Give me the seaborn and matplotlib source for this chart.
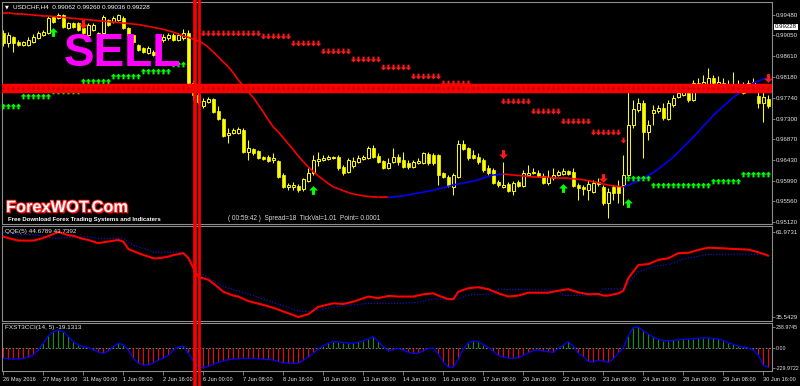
import matplotlib
matplotlib.use("Agg")
import numpy as np
import pandas as pd
import seaborn as sns
import matplotlib.pyplot as plt
from matplotlib.collections import LineCollection
from matplotlib.lines import Line2D
from matplotlib.path import Path
import matplotlib.patheffects as pe
import matplotlib.transforms as mtransforms

PIP = 0.0001

# ---------------- data (USDCHF H4, prices in pips) ----------------
opens = [9910, 9889, 9902, 9891, 9885, 9885, 9891, 9900, 9906, 9910,
         9944, 9942, 9948, 9921, 9932, 9932, 9921, 9906, 9917, 9910,
         9910, 9938, 9934, 9938, 9942, 9921, 9906, 9885, 9879, 9868,
         9870, 9868, 9896, 9900, 9906, 9896, 9900, 9910, 9805, 9780,
         9757, 9765, 9771, 9746, 9729, 9696, 9700, 9700, 9706, 9660,
         9666, 9662, 9649, 9649, 9643, 9641, 9611, 9586, 9586, 9588,
         9582, 9599, 9616, 9641, 9643, 9645, 9647, 9649, 9628, 9618,
         9630, 9639, 9645, 9647, 9668, 9651, 9641, 9626, 9639, 9649,
         9643, 9637, 9628, 9637, 9637, 9656, 9653, 9653, 9616, 9607,
         9586, 9607, 9677, 9668, 9653, 9649, 9643, 9626, 9622, 9597,
         9586, 9592, 9578, 9597, 9588, 9611, 9616, 9616, 9609, 9595,
         9605, 9611, 9613, 9620, 9618, 9590, 9586, 9580, 9576, 9597,
         9586, 9552, 9586, 9588, 9590, 9611, 9717, 9748, 9763, 9702,
         9742, 9746, 9753, 9729, 9759, 9776, 9780, 9784, 9769, 9805,
         9799, 9801, 9816, 9801, 9805, 9801, 9795, 9803, 9797, 9797,
         9799, 9778, 9763, 9771]
closes = [9889, 9906, 9889, 9885, 9891, 9896, 9902, 9910, 9913, 9942,
          9934, 9948, 9923, 9932, 9923, 9917, 9910, 9927, 9927, 9902,
          9944, 9927, 9942, 9948, 9921, 9906, 9891, 9875, 9870, 9879,
          9864, 9896, 9902, 9906, 9896, 9906, 9910, 9805, 9780, 9765,
          9767, 9771, 9744, 9729, 9693, 9700, 9706, 9708, 9660, 9668,
          9658, 9647, 9645, 9641, 9647, 9607, 9586, 9590, 9590, 9580,
          9603, 9616, 9643, 9645, 9647, 9649, 9649, 9626, 9616, 9643,
          9641, 9647, 9649, 9668, 9649, 9639, 9626, 9637, 9649, 9639,
          9628, 9628, 9639, 9641, 9658, 9637, 9637, 9611, 9607, 9588,
          9611, 9677, 9666, 9647, 9647, 9639, 9622, 9616, 9595, 9590,
          9590, 9578, 9595, 9588, 9616, 9616, 9618, 9609, 9595, 9607,
          9611, 9618, 9620, 9613, 9588, 9584, 9582, 9592, 9595, 9592,
          9552, 9576, 9574, 9574, 9611, 9717, 9750, 9763, 9702, 9717,
          9748, 9753, 9731, 9763, 9774, 9784, 9790, 9769, 9805, 9797,
          9807, 9816, 9805, 9807, 9797, 9795, 9803, 9790, 9784, 9805,
          9807, 9763, 9776, 9757]
highs = [9917, 9913, 9904, 9896, 9894, 9902, 9908, 9915, 9917, 9946,
         9946, 9953, 9950, 9934, 9934, 9934, 9927, 9932, 9932, 9913,
         9948, 9940, 9946, 9950, 9946, 9923, 9908, 9887, 9881, 9883,
         9875, 9902, 9908, 9910, 9910, 9910, 9919, 9917, 9811, 9786,
         9774, 9776, 9774, 9757, 9731, 9710, 9710, 9712, 9710, 9685,
         9668, 9664, 9651, 9653, 9658, 9643, 9616, 9595, 9597, 9592,
         9605, 9626, 9653, 9660, 9653, 9653, 9651, 9653, 9632, 9647,
         9649, 9653, 9653, 9672, 9675, 9658, 9643, 9647, 9668, 9656,
         9660, 9643, 9643, 9647, 9660, 9660, 9658, 9656, 9618, 9611,
         9616, 9685, 9685, 9670, 9664, 9658, 9647, 9632, 9626, 9601,
         9639, 9597, 9599, 9601, 9622, 9632, 9626, 9622, 9616, 9622,
         9626, 9622, 9626, 9622, 9626, 9595, 9590, 9601, 9601, 9605,
         9590, 9584, 9590, 9601, 9653, 9801, 9769, 9774, 9769, 9727,
         9759, 9759, 9763, 9769, 9780, 9790, 9801, 9790, 9811, 9816,
         9822, 9837, 9822, 9820, 9816, 9811, 9828, 9811, 9807, 9811,
         9816, 9786, 9786, 9780]
lows = [9883, 9881, 9870, 9883, 9883, 9883, 9889, 9898, 9904, 9908,
        9932, 9940, 9921, 9919, 9921, 9915, 9908, 9904, 9915, 9900,
        9906, 9925, 9932, 9936, 9919, 9904, 9887, 9873, 9868, 9866,
        9862, 9864, 9891, 9896, 9894, 9894, 9896, 9801, 9769, 9761,
        9753, 9763, 9742, 9727, 9691, 9679, 9698, 9698, 9658, 9643,
        9653, 9645, 9643, 9639, 9637, 9605, 9584, 9580, 9580, 9576,
        9578, 9597, 9611, 9630, 9641, 9643, 9645, 9622, 9611, 9616,
        9626, 9637, 9643, 9645, 9647, 9637, 9624, 9624, 9637, 9632,
        9626, 9624, 9626, 9635, 9635, 9632, 9632, 9590, 9605, 9586,
        9569, 9605, 9664, 9643, 9645, 9635, 9618, 9611, 9592, 9586,
        9584, 9576, 9569, 9586, 9586, 9609, 9613, 9607, 9592, 9590,
        9601, 9609, 9611, 9611, 9586, 9559, 9569, 9559, 9574, 9588,
        9548, 9521, 9559, 9552, 9548, 9605, 9710, 9744, 9647, 9685,
        9717, 9742, 9727, 9727, 9755, 9774, 9778, 9765, 9767, 9795,
        9797, 9799, 9801, 9799, 9795, 9792, 9792, 9788, 9782, 9795,
        9797, 9753, 9723, 9753]
# slope-coloured moving average (pips)
ma_line = [9953, 9953, 9951, 9950, 9950, 9949, 9948, 9947, 9946, 9946,
           9945, 9944, 9943, 9942, 9941, 9940, 9939, 9938, 9937, 9936,
           9935, 9934, 9933, 9932, 9931, 9930, 9929, 9928, 9926, 9924,
           9922, 9920, 9918, 9915, 9912, 9908, 9904, 9901, 9897, 9893,
           9888, 9880, 9870, 9860, 9849, 9839, 9826, 9811, 9799, 9786,
           9774, 9759, 9744, 9727, 9712, 9702, 9689, 9677, 9664, 9651,
           9639, 9628, 9618, 9609, 9601, 9593, 9586, 9582, 9578, 9574,
           9571, 9569, 9567, 9566, 9565, 9565, 9564, 9564, 9565, 9566,
           9567, 9569, 9571, 9573, 9575, 9577, 9579, 9582, 9584, 9587,
           9590, 9592, 9594, 9596, 9598, 9601, 9605, 9608, 9611, 9612,
           9613, 9612, 9611, 9610, 9609, 9608, 9607, 9607, 9606, 9606,
           9605, 9605, 9604, 9604, 9603, 9602, 9601, 9599, 9597, 9595,
           9592, 9590, 9588, 9587, 9586, 9590, 9594, 9599, 9605, 9610,
           9616, 9624, 9632, 9640, 9649, 9659, 9670, 9680, 9691, 9702,
           9714, 9725, 9737, 9746, 9756, 9765, 9775, 9782, 9790, 9797,
           9805, 9809, 9813, 9815]
cci = [-119, -122, -126, -124, -120, -105, -80, -20, 55, 140,
       188, 207, 188, 135, 70, 35, 15, 5, -20, -45,
       -61, -35, 15, 54, 35, -23, -119, -175, -193, -195,
       -170, -140, -115, -85, -25, 10, 23, -60, -150, -215,
       -230, -210, -188, -165, -145, -135, -126, -122, -120, -119,
       -119, -122, -127, -132, -138, -155, -170, -176, -178, -176,
       -140, -105, -60, -10, 25, 55, 73, 70, 62, 56,
       54, 65, 81, 105, 130, 75, 15, -30, -20, -5,
       -25, -50, -61, -61, -30, -5, 0, -70, -160, -220,
       -220, -130, -10, 60, 81, 73, 40, 5, -40, -85,
       -105, -115, -119, -110, -85, -55, -28, -25, -33, -42,
       -50, -5, 35, 73, 20, -60, -100, -155, -160, -138,
       -150, -165, -125, -60, 0, 140, 235, 239, 200, 160,
       125, 100, 85, 81, 88, 95, 100, 103, 108, 113,
       118, 116, 110, 104, 85, 60, 42, 25, 10, 0,
       -25, -80, -200, -220]
qqe_bar = [0, 1, 3, 6, 8, 11, 13, 14, 16, 17, 19, 21, 23, 24, 25, 27, 30, 31, 33, 34,
           36, 37, 38, 39, 41, 42, 44, 46, 47, 49, 52, 54, 57, 59, 61, 63, 66, 68, 70, 73,
           75, 77, 79, 82, 84, 86, 87, 89, 90, 91, 93, 95, 97, 99, 101, 103, 105, 109, 111, 113,
           115, 117, 119, 120, 121, 123, 124, 125, 127, 129, 131, 133, 135, 137, 139, 141, 144, 146, 149, 151,
           153]
qqe_val = [60.5, 60.1, 59.3, 59.3, 60.1, 61.97, 61.0, 60.8, 59.8, 59.5, 58.5, 59.0, 59.5, 59.0, 56.7, 55.4, 53.8, 53.8, 54.3, 54.8,
           55.4, 53.9, 50.8, 48.1, 47.1, 46.0, 43.4, 42.2, 41.9, 40.5, 39.3, 38.4, 36.7, 35.54, 36.4, 38.7, 39.8, 39.6, 40.3, 41.9,
           41.4, 42.1, 41.9, 41.9, 42.6, 42.9, 42.2, 41.1, 41.1, 43.4, 44.5, 44.8, 44.2, 42.9, 41.9, 42.2, 43.1, 43.1, 43.7, 44.2,
           43.2, 42.6, 42.7, 42.2, 42.2, 42.9, 43.7, 47.6, 51.7, 52.0, 53.3, 53.8, 55.4, 55.5, 56.4, 57.1, 56.9, 56.7, 56.5, 55.7,
           54.6]
qqe_sig_bar = [0, 3, 7, 10, 13, 17, 19, 24, 26, 29, 30, 36, 37, 39, 44, 50, 55, 59, 61, 63,
               66, 73, 79, 83, 86, 91, 93, 98, 99, 111, 112, 119, 120, 124, 127, 130, 133, 136, 141, 149,
               153]
qqe_sig_val = [61.9, 61.3, 61.0, 60.0, 60.2, 60.5, 60.0, 60.0, 57.9, 56.4, 55.7, 55.7, 54.3, 49.6, 45.0, 42.2, 39.5, 37.4, 37.2, 37.7,
               38.7, 39.8, 39.8, 40.1, 41.1, 41.1, 42.4, 42.7, 44.2, 43.9, 42.2, 42.4, 44.3, 44.3, 49.6, 51.2, 51.9, 53.6, 55.0, 55.1,
               55.0]
# arrow rows: resistance (red, down) and support (green, up)
res_start = [40, 52, 58, 64, 70, 76, 82, 88, 100, 106, 112, 118, 124]
res_end = [51, 57, 63, 69, 75, 81, 87, 93, 105, 111, 117, 123, 124]
res_level = [0.9910, 0.9904, 0.9889, 0.9872, 0.9855, 0.9838, 0.9820, 0.9805, 0.9767, 0.9746, 0.9725, 0.9702, 0.9685]
sup_start = [0, 4, 10, 16, 22, 28, 34, 125, 130, 142, 148]
sup_end = [3, 9, 15, 21, 27, 33, 36, 129, 141, 147, 153]
sup_level = [0.9756, 0.9777, 0.9787, 0.9810, 0.9820, 0.9830, 0.9845, 0.9605, 0.9590, 0.9598, 0.9613]
sell_bar = [16, 100, 120, 153]
sell_price = [0.9929, 0.9655, 0.9605, 0.9815]
buy_bar = [10, 62, 112, 125]
buy_price = [0.9912, 0.9579, 0.9584, 0.9552]
sell_level = 0.9795
signal_bar = 38
last_price = 0.99228

price_ticks = [0.99480, 0.99050, 0.98610, 0.98180, 0.97740, 0.97300, 0.96870, 0.96430, 0.95990, 0.95560, 0.95120]
qqe_ticks = [35.5429, 61.9731]
cci_ticks = [-229.9722, 0.0, 238.9745]
cci_tick_labels = ["-229.9722", "0.00", "238.9745"]
x_labels = ["26 May 2016", "27 May 16:00", "31 May 00:00", "1 Jun 08:00", "2 Jun 16:00",
            "6 Jun 00:00", "7 Jun 08:00", "8 Jun 16:00", "10 Jun 00:00", "13 Jun 08:00",
            "14 Jun 16:00", "16 Jun 00:00", "17 Jun 08:00", "20 Jun 16:00", "22 Jun 00:00",
            "23 Jun 08:00", "24 Jun 16:00", "28 Jun 00:00", "29 Jun 08:00", "30 Jun 16:00"]
label_every = 8

title_text = "USDCHF,H4  0.99062 0.99260 0.99036 0.99228"
qqe_text = "QQE(5) 44.6789 43.7392"
cci_text = "FXST3CCI(14, 5) -19.1313"
status_text = "( 00:59:42 )  Spread=18  TickVal=1.01  Point= 0.0001"

# ---------------- style ----------------
sns.set_theme(style="dark", rc={"axes.facecolor": "black", "figure.facecolor": "black",
                                "axes.edgecolor": "#8c8c8c", "axes.linewidth": 0.8})
plt.rcParams["font.family"] = ["Liberation Sans", "DejaVu Sans"]

n = len(closes)
assert all(len(a) == n for a in (opens, highs, lows, ma_line, cci))
df = pd.DataFrame({"bar": np.arange(n),
                   "open": np.array(opens) * PIP, "high": np.array(highs) * PIP,
                   "low": np.array(lows) * PIP, "close": np.array(closes) * PIP,
                   "ma": np.array(ma_line) * PIP, "cci": np.array(cci, dtype=float)})

W, H = 800, 386
fig = plt.figure(figsize=(W / 100, H / 100), dpi=100)

def px_axes(x0, y0, x1, y1):
    return fig.add_axes([x0 / W, 1 - y1 / H, (x1 - x0) / W, (y1 - y0) / H])

ax = px_axes(2, 2, 772, 224)
axq = px_axes(2, 226, 772, 321)
axc = px_axes(2, 323, 772, 371)

XMIN = -0.26
XMAX = XMIN + 770 / 5.0
GRAY = "#8c8c8c"
TXT = "#e6e6e6"
LBL = 4.4
for a in (ax, axq, axc):
    a.set_facecolor("black")
    a.set_xlim(XMIN, XMAX)
    a.grid(False)
    for s in a.spines.values():
        s.set_color(GRAY)
        s.set_linewidth(0.8)
    a.tick_params(axis="y", which="both", left=False, right=True, labelleft=False, labelright=True,
                  length=2.0, width=0.6, color=GRAY, labelcolor=TXT, labelsize=LBL, pad=0.8)
    a.set_xlabel("")
    a.set_ylabel("")

ax.set_xticks([])
axq.set_xticks([])

# ---------------- main price panel ----------------
ax.set_ylim(0.95078, 0.99754)
ax.set_yticks(price_ticks)
ax.set_yticklabels([f"{t:.5f}" for t in price_ticks])

YEL = "#ffff00"
bull = df["close"] >= df["open"]
ax.vlines(df["bar"], df["low"], df["high"], color=YEL, lw=0.75, zorder=2)
body_lo = np.minimum(df["open"], df["close"])
body_h = np.maximum(np.abs(df["close"] - df["open"]), 0.6 * PIP)
ax.bar(df["bar"][bull], body_h[bull], bottom=body_lo[bull], width=0.62,
       color="black", edgecolor=YEL, linewidth=0.7, zorder=2.5)
ax.bar(df["bar"][~bull], body_h[~bull], bottom=body_lo[~bull], width=0.62,
       color=YEL, edgecolor=YEL, linewidth=0.5, zorder=2.5)

# slope coloured MA
mav = df["ma"].to_numpy()
segs, cols = [], []
prev = "#ff0000"
for i in range(n - 1):
    d = mav[i + 1] - mav[i]
    if d < 0:
        prev = "#ff0000"
    elif d > 0:
        prev = "#0000ff"
    segs.append([(i, mav[i]), (i + 1, mav[i + 1])])
    cols.append(prev)
ax.add_collection(LineCollection(segs, colors=cols, linewidths=1.2, zorder=3))

def arrow_marker(up):
    v = [(-0.36, 1.0), (0.36, 1.0), (0.36, 0.0), (1.0, 0.0), (0.0, -1.0), (-1.0, 0.0), (-0.36, 0.0), (-0.36, 1.0)]
    if up:
        v = [(x, -y) for x, y in v]
    codes = [Path.MOVETO] + [Path.LINETO] * 6 + [Path.CLOSEPOLY]
    return Path(v, codes)

DOWN = arrow_marker(False)
UP = arrow_marker(True)

for s0, s1, lev in zip(res_start, res_end, res_level):
    xs = np.arange(s0, s1 + 1)
    ax.scatter(xs, np.full(len(xs), lev), marker=DOWN, s=17, color="#ff1a1a", linewidths=0, zorder=3.2)
for s0, s1, lev in zip(sup_start, sup_end, sup_level):
    xs = np.arange(s0, s1 + 1)
    ax.scatter(xs, np.full(len(xs), lev), marker=UP, s=17, color="#00ff00", linewidths=0, zorder=3.2)

# thick sell level band
ax.axhline(sell_level, color="#ff0000", lw=6.8, zorder=4)
ax.scatter(df["bar"], np.full(n, sell_level), marker=DOWN, s=9, color="#c00000", linewidths=0, zorder=4.1)

ax.scatter(sell_bar, sell_price, marker=DOWN, s=40, color="#ff1a1a", linewidths=0, zorder=5)
ax.scatter(buy_bar, buy_price, marker=UP, s=40, color="#00ff00", linewidths=0, zorder=5)

# current price box
ax.annotate(f"{last_price:.5f}", xy=(1.0, last_price), xycoords=("axes fraction", "data"),
            xytext=(2.0, 0), textcoords="offset points", ha="left", va="center",
            fontsize=LBL, color="black",
            bbox=dict(boxstyle="square,pad=0.12", fc="white", ec="none"), annotation_clip=False)

# texts in main panel (pixel placed)
def ftext(x, y, s, **kw):
    fig.text(x / W, 1 - y / H, s, **kw)

ftext(5, 6.5, "\u25bc", fontsize=3.6, color="white", va="center", ha="left",
      family=["DejaVu Sans"])
ftext(13, 6.5, title_text, fontsize=4.6, color="white", va="center", ha="left")
ftext(122, 53.5, "SELL", fontsize=33, fontweight="bold", color="#ff00ff", va="center", ha="center", zorder=6)
ftext(6, 207.5, "ForexWOT.Com", fontsize=11.8, fontweight="bold", color="white", va="center", ha="left",
      path_effects=[pe.withSimplePatchShadow(offset=(1.0, -1.0), shadow_rgbFace="#ff0000", alpha=1.0),
                    pe.withStroke(linewidth=1.4, foreground="#ff2020")])
ftext(8, 219.8, "Free Download Forex Trading Systems and Indicaters", fontsize=4.3, fontweight="bold",
      color="white", va="center", ha="left")
ftext(228, 218.8, status_text, fontsize=4.7, color="#dcdcdc", va="center", ha="left")

# ---------------- QQE panel ----------------
axq.set_ylim(34.30, 63.84)
sns.lineplot(x=qqe_sig_bar, y=qqe_sig_val, ax=axq, color="#1414c8", lw=0.8, linestyle=(0, (1.2, 1.4)),
             estimator=None, sort=False, zorder=2)
sns.lineplot(x=qqe_bar, y=qqe_val, ax=axq, color="#ff0000", lw=1.5, estimator=None, sort=False, zorder=3)
axq.set_yticks(qqe_ticks)
axq.set_yticklabels([f"{t:.4f}" for t in qqe_ticks])
axq.set_xlim(XMIN, XMAX)
axq.set_xticks([])
axq.set_xlabel("")
axq.set_ylabel("")
ftext(5, 231, qqe_text, fontsize=4.6, color=TXT, va="center", ha="left")

# ---------------- CCI panel ----------------
axc.set_ylim(-264.5, 287.5)
cc = df["cci"].to_numpy()
axc.vlines(df["bar"], 0, cc, colors=np.where(cc >= 0, "#00a000", "#ff0000"), lw=0.75, zorder=2)
axc.axhline(0, color="#a0a0a0", lw=0.6, linestyle=(0, (2, 2)), zorder=1.5)
sns.lineplot(x=df["bar"], y=df["cci"], ax=axc, color="#0000ff", lw=0.9, estimator=None, zorder=3)
axc.set_yticks(cci_ticks)
axc.set_yticklabels(cci_tick_labels)
axc.tick_params(axis="y", labelsize=3.8, pad=0.6)
axc.set_xlim(XMIN, XMAX)
axc.set_xlabel("")
axc.set_ylabel("")
ftext(5, 328, cci_text, fontsize=4.6, color=TXT, va="center", ha="left")

xt = np.arange(0, n, label_every)[:len(x_labels)]
axc.set_xticks(xt)
axc.set_xticklabels(x_labels, ha="left")
axc.tick_params(axis="x", bottom=True, length=2.6, width=0.6, color=GRAY, labelcolor=TXT,
                labelsize=4.1, pad=1.6)

# ---------------- vertical signal lines across all panels ----------------
trans = mtransforms.blended_transform_factory(ax.transData, fig.transFigure)
for off, w in ((0.24, 2.6), (1.06, 1.9)):
    fig.add_artist(Line2D([signal_bar + off] * 2, [0, 1], transform=trans, color="#ff0000", lw=w, zorder=10))

fig.savefig("out.png", dpi=100, facecolor="black")
